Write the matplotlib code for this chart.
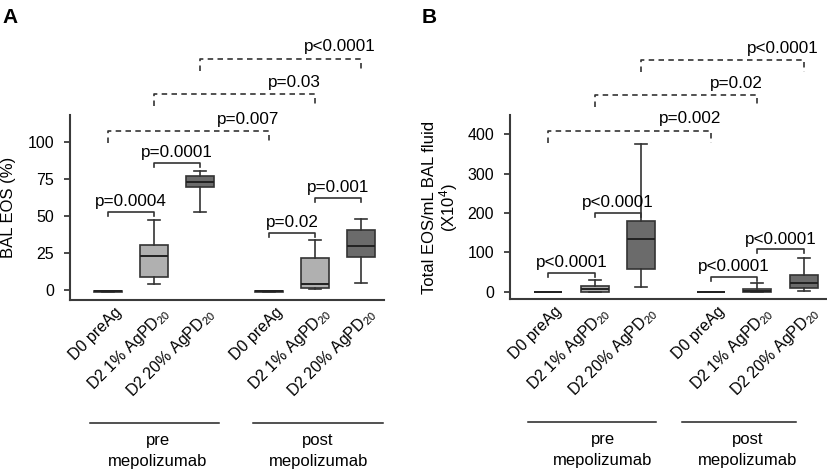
import matplotlib
matplotlib.use("Agg")
import matplotlib.pyplot as plt
from matplotlib.transforms import ScaledTranslation

plt.rcParams['font.family'] = ['Liberation Sans', 'DejaVu Sans']
plt.rcParams['mathtext.fontset'] = 'custom'
plt.rcParams['mathtext.rm'] = 'Liberation Sans'
plt.rcParams['mathtext.it'] = 'Liberation Sans:italic'

# box positions: pre (3 groups) and post (3 groups) mepolizumab
positions = [0, 1, 2, 3.5, 4.5, 5.5]
tick_labels = ["D0 preAg", "D2 1% AgPD$_{20}$", "D2 20% AgPD$_{20}$"] * 2
box_colors = ["#b0b0b0", "#b0b0b0", "#6b6b6b"] * 2

# panel A: BAL EOS (%)
a_whislo = [-1.2, 4.0, 52.6, -1.2, 0.5, 4.7]
a_q1 = [-1.1, 8.6, 69.7, -1.1, 1.6, 22.5]
a_med = [-0.9, 23.1, 72.6, -0.9, 3.8, 29.9]
a_q3 = [-0.7, 30.3, 77.1, -0.7, 21.8, 40.2]
a_whishi = [-0.6, 47.2, 80.2, -0.6, 33.7, 48.1]

# panel B: total EOS/mL BAL fluid (x10^4)
b_whislo = [0, 0, 13, 0, 0, 2]
b_q1 = [0, 0, 57, 0, 0, 8.5]
b_med = [0, 6, 133, 0, 3, 23]
b_q3 = [0, 15, 180, 0, 8, 41.6]
b_whishi = [0, 30, 375, 0, 21, 86]

# significance brackets: (left idx, right idx, height, label, dashed)
a_brackets = [
    (0, 1, 52.8, "p=0.0004", False),
    (1, 2, 85.8, "p=0.0001", False),
    (3, 4, 38.6, "p=0.02", False),
    (4, 5, 62.2, "p=0.001", False),
    (0, 3, 107, "p=0.007", True),
    (1, 4, 132, "p=0.03", True),
    (2, 5, 156, "p<0.0001", True),
]
b_brackets = [
    (0, 1, 48, "p<0.0001", False),
    (1, 2, 200, "p<0.0001", False),
    (3, 4, 38, "p<0.0001", False),
    (4, 5, 108, "p<0.0001", False),
    (0, 3, 408, "p=0.002", True),
    (1, 4, 498, "p=0.02", True),
    (2, 5, 587, "p<0.0001", True),
]

dark = "#333333"


def draw_panel(ax, whislo, q1, med, q3, whishi, brackets, ylim, yticks,
               px_per_unit, groups):
    stats = []
    for i in range(len(positions)):
        stats.append(dict(whislo=whislo[i], q1=q1[i], med=med[i], q3=q3[i],
                          whishi=whishi[i], fliers=[]))
    bp = ax.bxp(stats, positions=positions, widths=0.6, capwidths=0.26,
                patch_artist=True, showfliers=False,
                boxprops=dict(edgecolor=dark, linewidth=1.2),
                whiskerprops=dict(color=dark, linewidth=1.2),
                capprops=dict(color=dark, linewidth=1.2),
                medianprops=dict(color="#222222", linewidth=1.4))
    for patch, c in zip(bp['boxes'], box_colors):
        patch.set_facecolor(c)

    ax.set_xlim(-0.82, 6.0)
    ax.set_ylim(*ylim)
    ax.set_yticks(yticks)
    ax.spines['top'].set_visible(False)
    ax.spines['right'].set_visible(False)
    for s in ['left', 'bottom']:
        ax.spines[s].set_linewidth(1.5)
        ax.spines[s].set_color("#3a3a3a")
    ax.tick_params(axis='y', length=4, width=1.3, color="#3a3a3a",
                   labelsize=11.5, pad=7.5)
    ax.tick_params(axis='x', length=0, labelsize=11.5, pad=3)
    ax.set_xticks(positions)
    ax.set_xticklabels(tick_labels, rotation=45, ha='right',
                       rotation_mode='anchor')
    shift = ScaledTranslation(6 / 100, 0, fig.dpi_scale_trans)
    for lab in ax.get_xticklabels():
        lab.set_transform(lab.get_transform() + shift)

    for l, r, h, txt, dashed in brackets:
        x0, x1 = positions[l], positions[r]
        if dashed:
            d = 12 / px_per_unit
            ax.plot([x0, x0, x1, x1], [h - d, h, h, h - d], color=dark,
                    lw=1.2, dashes=(3.3, 2.6), clip_on=False)
            ax.annotate(txt, (x1 - 0.45, h), xytext=(0, 5.5),
                        textcoords='offset points', ha='center',
                        va='baseline', fontsize=12.3, annotation_clip=False)
        else:
            d = 4 / px_per_unit
            ax.plot([x0, x0, x1, x1], [h - d, h, h, h - d], color=dark,
                    lw=1.2, clip_on=False)
            ax.annotate(txt, ((x0 + x1) / 2, h), xytext=(0, 4),
                        textcoords='offset points', ha='center',
                        va='baseline', fontsize=12.3, annotation_clip=False)

    tr = ax.get_xaxis_transform()
    for gx0, gx1, gc, name in groups:
        ax.plot([gx0, gx1], [-0.665, -0.665], color="#222222", lw=1.1,
                transform=tr, clip_on=False)
        ax.text(gc, -0.76, name, transform=tr, ha='center', va='center',
                fontsize=12)
        ax.text(gc, -0.875, "mepolizumab", transform=tr, ha='center',
                va='center', fontsize=12)


fig = plt.figure(figsize=(8.27, 4.70), dpi=100)

axA = fig.add_axes([70 / 827, 1 - 300 / 470, 314 / 827, 185 / 470])
draw_panel(axA, a_whislo, a_q1, a_med, a_q3, a_whishi, a_brackets,
           (-6.7, 118), [0, 25, 50, 75, 100], 1.483,
           [(-0.38, 2.42, 1.09, "pre"), (3.16, 5.98, 4.57, "post")])
axA.set_ylabel("BAL EOS (%)", fontsize=12)
axA.yaxis.set_label_coords(-0.172, 0.5)

axB = fig.add_axes([510 / 827, 1 - 299.3 / 470, 317 / 827, 184.3 / 470])
draw_panel(axB, b_whislo, b_q1, b_med, b_q3, b_whishi, b_brackets,
           (-19.3, 448.5), [0, 100, 200, 300, 400], 0.394,
           [(-0.44, 2.33, 1.17, "pre"), (2.89, 5.34, 4.29, "post")])
axB.set_ylabel("Total EOS/mL BAL fluid\n(X10$^{4}$)", fontsize=12,
               multialignment='center', linespacing=1.0)
axB.yaxis.set_label_coords(-0.158, 0.5)

fig.text(0.003, 1 - 23 / 470, "A", fontsize=15, fontweight='bold',
         va='baseline')
fig.text(422 / 827, 1 - 23 / 470, "B", fontsize=15, fontweight='bold',
         va='baseline')

fig.savefig("out.png", dpi=100)
